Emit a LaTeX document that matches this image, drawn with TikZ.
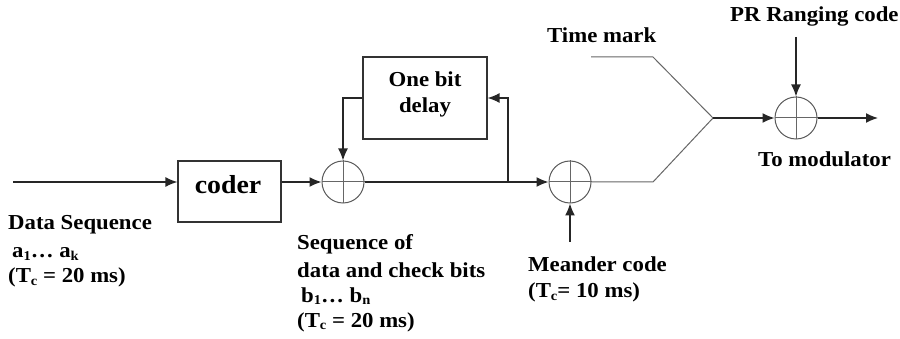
\documentclass[tikz,border=0pt]{standalone}
\usepackage{fontspec}
\setmainfont[FakeStretch=1.07]{Liberation Serif}
\usetikzlibrary{arrows.meta}
\newcommand{\lbl}{\fontsize{21.3}{25}\selectfont\bfseries}
\newcommand{\mysub}[1]{\raisebox{-0.3ex}{\fontsize{13.5}{13.5}\selectfont #1}}
\tikzset{
  wire/.style={line width=1.4pt, draw=black!85},
  thin wire/.style={line width=1pt, draw=black!60},
  arr/.style={wire, -{Latex[length=12pt,width=10pt]}},
  box/.style={draw=black!80, line width=1.2pt, inner sep=0pt},
  xor/.style={circle, draw=black!65, line width=1pt, minimum size=42pt, inner sep=0pt},
  txt/.style={anchor=base west, inner sep=0pt, font=\lbl, align=left},
}
\begin{document}
\begin{tikzpicture}[x=1pt,y=-1pt]
\useasboundingbox (0,0) rectangle (900,339);
% blocks
\node[box, minimum width=103pt, minimum height=61pt] (coder) at (229.5,191.5) {};
\node[anchor=base, inner sep=0pt, font=\fontsize{26}{26}\selectfont\bfseries] (codert) at (228,194) {coder};
\node[box, minimum width=124pt, minimum height=82pt] (delay) at (425,98) {};
\node[anchor=base, inner sep=0pt, font=\lbl] (delayt1) at (425,87) {One bit};
\node[anchor=base, inner sep=0pt, font=\lbl] (delayt2) at (425,113) {delay};
% adders
\node[xor] (x1) at (343,182) {};
\node[xor] (x2) at (570,182) {};
\node[xor] (x3) at (796,118) {};
\foreach \n in {x1,x2,x3}{
  \draw[thin wire] (\n.north) -- (\n.south);
  \draw[thin wire] (\n.west) -- (\n.east);
}
% coordinates
\coordinate (in) at (13,182);
\coordinate (j) at (508,182);
\coordinate (m) at (570,242);
\coordinate (sw) at (713,118);
\coordinate (lo) at (653,182);
\coordinate (tm0) at (591,57);
\coordinate (tm1) at (653,57);
\coordinate (pr) at (796,37);
\coordinate (out) at (878,118);
% connectors
\draw[arr] (in) -- (in -| coder.west);
\draw[arr] (coder.east |- x1) -- (x1.west);
\draw[arr] (x1.east) -- (x2.west);
\draw[arr] (j) -- (j |- delay.east) -- (delay.east);
\draw[arr] (delay.west) -- (x1 |- delay.west) -- (x1.north);
\draw[arr] (m) -- (x2.south);
\draw[thin wire] (x2.east) -- (lo) -- (sw);
\draw[thin wire] (tm0) -- (tm1) -- (sw);
\draw[arr] (sw) -- (x3.west);
\draw[arr] (x3.east) -- (out);
\draw[arr] (pr) -- (x3.north);
% labels
\node[txt] (l1) at (8,230) {Data Sequence};
\node[txt] (l2) at (12,258) {a\mysub{1}\ldots\ a\mysub{k}};
\node[txt] (l3) at (8,283) {(T\mysub{c} = 20 ms)};
\node[txt] (s1) at (297,250) {Sequence of};
\node[txt] (s2) at (297,277) {data and check bits};
\node[txt] (s3) at (301,302) {b\mysub{1}\ldots\ b\mysub{n}};
\node[txt] (s4) at (297,327) {(T\mysub{c} = 20 ms)};
\node[txt] (m1) at (528,272) {Meander code};
\node[txt] (m2) at (528,298) {(T\mysub{c}= 10 ms)};
\node[txt] (t1) at (547,43) {Time mark};
\node[txt] (p1) at (730,22) {PR Ranging code};
\node[txt] (o1) at (758,167) {To modulator};
\end{tikzpicture}
\end{document}
